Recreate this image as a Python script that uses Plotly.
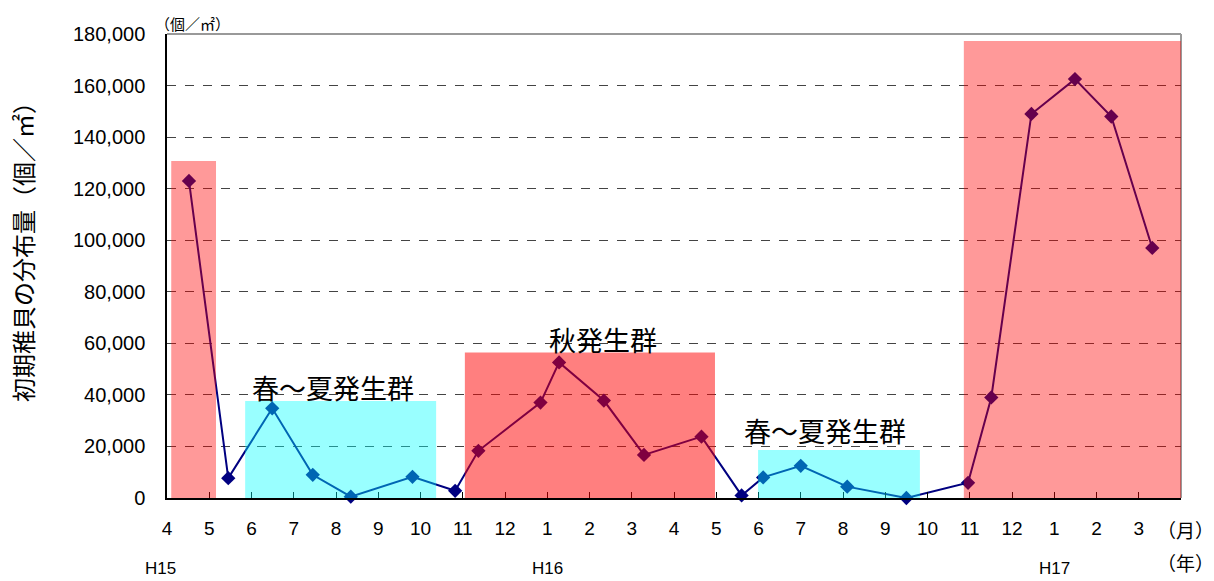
import plotly.graph_objects as go

# Survey months, H15 April to H17 March (position 0 = April H15)
month_labels = ["4", "5", "6", "7", "8", "9", "10", "11", "12", "1", "2", "3",
                "4", "5", "6", "7", "8", "9", "10", "11", "12", "1", "2", "3"]
year_labels = ["H15", "H16", "H17"]
year_pos = [0, 9, 21]
year_shift = [-7, 0, 0]

# Sampling dates expressed as month positions, and the density of juveniles (per m2)
sample_pos = [0.52, 1.45, 2.49, 3.45, 4.35, 5.81, 6.82, 7.37, 8.84, 9.28, 10.34, 11.29,
              12.65, 13.60, 14.11, 15.00, 16.10, 17.50, 18.96, 19.51, 20.46, 21.49, 22.35, 23.32]
density = [123000, 7700, 34800, 9000, 500, 8200, 2800, 18300, 37000, 52600, 37800, 16700,
           23800, 1000, 8000, 12500, 4400, 0, 5900, 39000, 149000, 162500, 148000, 97000]

# Cohort periods: (start, end, height, kind)
cohorts_x0 = [0.10, 1.85, 7.05, 13.99, 18.86]
cohorts_x1 = [1.16, 6.37, 12.97, 17.82, 24.09]
cohorts_top = [130700, 37600, 56400, 18600, 177300]
cohorts_kind = ["autumn", "spring", "autumn2", "spring", "autumn"]
cohort_names = ["春～夏発生群", "秋発生群", "春～夏発生群", "秋発生群"]
name_x = [3.93, 10.32, 15.58, 21.44]
name_y = [43000, 61300, 26000, 181500]

fill = {
    "autumn": "rgba(255,0,0,0.4)",
    "autumn2": "rgba(255,0,0,0.5)",
    "spring": "rgba(0,255,255,0.4)",
}

fig = go.Figure()
fig.add_trace(go.Scatter(
    x=sample_pos, y=density, mode="lines+markers",
    line=dict(color="#000080", width=2),
    marker=dict(symbol="diamond", size=11, color="#000080"),
    showlegend=False, cliponaxis=False,
))

# Plot frame: gray top and right borders
fig.add_shape(type="line", xref="paper", yref="paper", x0=0, x1=1, y0=1, y1=1,
              line=dict(color="#999999", width=2), layer="below")
fig.add_shape(type="line", xref="paper", yref="paper", x0=1, x1=1, y0=0, y1=1,
              line=dict(color="#999999", width=2), layer="below")

for x0, x1, top, kind in zip(cohorts_x0, cohorts_x1, cohorts_top, cohorts_kind):
    fig.add_shape(type="rect", xref="x", yref="y", x0=x0, x1=x1, y0=-400, y1=top,
                  fillcolor=fill[kind], line=dict(width=0), layer="above")

jp_font = "Noto Sans CJK JP"
for txt, x, y in zip(cohort_names, name_x, name_y):
    fig.add_annotation(x=x, y=y, text=txt, showarrow=False, xref="x", yref="y",
                       font=dict(family=jp_font, size=27, color="black"))

for lbl, p, s in zip(year_labels, year_pos, year_shift):
    fig.add_annotation(x=p, y=-0.153, xref="x", yref="paper", text=lbl, showarrow=False,
                       yanchor="middle", xshift=s,
                       font=dict(family="Liberation Sans", size=17, color="black"))

fig.add_annotation(x=1.0, y=-0.068, xref="paper", yref="paper", text="（月）", showarrow=False,
                   xanchor="center", yanchor="middle", xshift=4,
                   font=dict(family=jp_font, size=19, color="black"))
fig.add_annotation(x=1.0, y=-0.140, xref="paper", yref="paper", text="（年）", showarrow=False,
                   xanchor="center", yanchor="middle", xshift=4,
                   font=dict(family=jp_font, size=19, color="black"))
fig.add_annotation(x=0, y=1.0, xref="paper", yref="paper", text="（個／㎡）", showarrow=False,
                   xanchor="left", yanchor="bottom", xshift=-14, yshift=-2,
                   font=dict(family=jp_font, size=15, color="black"))

# Vertical axis title
fig.add_annotation(x=0, y=0.543, xref="paper", yref="paper", text="初期稚貝の分布量（個／㎡）",
                   showarrow=False, textangle=-90, xanchor="center", yanchor="middle",
                   xshift=-145,
                   font=dict(family=jp_font, size=24, color="black"))

fig.update_xaxes(
    range=[0, 24], tickmode="array", tickvals=list(range(24)), ticktext=month_labels,
    ticks="inside", ticklen=6, tickcolor="black", showline=True, linecolor="black",
    linewidth=1.5, showgrid=False, zeroline=False, ticklabelstandoff=12,
    tickfont=dict(family="Liberation Sans", size=19, color="black"),
)
fig.update_yaxes(
    range=[0, 180000], tickvals=list(range(0, 180001, 20000)), tickformat=",d",
    showline=True, linecolor="black", linewidth=1.5, ticks="",
    showgrid=True, gridcolor="#444444", griddash="dash", gridwidth=1, zeroline=False,
    ticklabelstandoff=16,
    tickfont=dict(family="Liberation Sans", size=20, color="black"),
)
fig.update_layout(
    width=1214, height=581,
    margin=dict(l=167, r=33, t=34, b=83),
    plot_bgcolor="white", paper_bgcolor="white",
)
fig.write_html("out.html")
